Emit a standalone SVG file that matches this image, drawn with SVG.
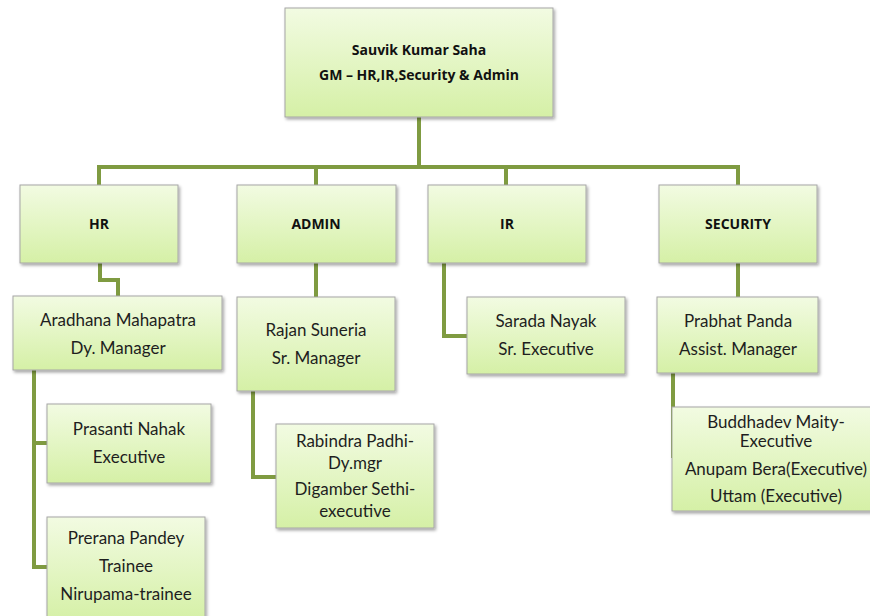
<svg xmlns="http://www.w3.org/2000/svg" width="870" height="616" viewBox="0 0 870 616">
<defs>
<linearGradient id="g" x1="0" y1="0" x2="0" y2="1">
<stop offset="0" stop-color="#f2fbe2"/>
<stop offset="1" stop-color="#d5f0a6"/>
</linearGradient>
<filter id="sh" x="-10%" y="-10%" width="130%" height="130%">
<feDropShadow dx="1.5" dy="2" stdDeviation="1.5" flood-color="#000" flood-opacity="0.35"/>
</filter>
</defs>
<style>
.box{fill:url(#g);stroke:#a6a6a6;stroke-width:1;filter:url(#sh)}
.t{font-family:Lato,"Open Sans","Liberation Sans",sans-serif;font-size:17px;fill:#1e1e1e;text-anchor:middle}
.b{font-family:"Open Sans","Liberation Sans",sans-serif;font-size:14px;font-weight:bold;fill:#111;text-anchor:middle}
.c{fill:none;stroke:#7f9b41;stroke-width:4;stroke-linejoin:miter}
</style>
<rect width="870" height="616" fill="#fff"/>
<g id="connectors">
<path class="c" d="M419 117 V167"/>
<path class="c" d="M99 185 V167 H738 V185"/>
<path class="c" d="M316 167 V185"/>
<path class="c" d="M506 167 V185"/>
<path class="c" d="M100 263 V280 H118 V296"/>
<path class="c" d="M34 370 V567 H47"/>
<path class="c" d="M34 443 H47"/>
<path class="c" d="M316 263 V297"/>
<path class="c" d="M253 391 V477 H276"/>
<path class="c" d="M444 263 V336 H467"/>
<path class="c" d="M738 263 V297"/>
<path class="c" d="M673 373 V458"/>
</g>
<g id="gm">
<rect class="box" x="285" y="8" width="268" height="109"/>
<text class="b" x="419" y="55">Sauvik Kumar Saha</text>
<text class="b" x="419" y="80">GM – HR,IR,Security &amp; Admin</text>
</g>
<g id="hr">
<rect class="box" x="20" y="185" width="158" height="78"/>
<text class="b" x="99" y="229">HR</text>
</g>
<g id="admin">
<rect class="box" x="237" y="185" width="159" height="78"/>
<text class="b" x="316" y="229">ADMIN</text>
</g>
<g id="ir">
<rect class="box" x="428" y="185" width="158" height="78"/>
<text class="b" x="507" y="229">IR</text>
</g>
<g id="security">
<rect class="box" x="659" y="185" width="158" height="78"/>
<text class="b" x="738" y="229">SECURITY</text>
</g>
<g id="aradhana">
<rect class="box" x="13" y="296" width="209" height="74"/>
<text class="t" x="118" y="326">Aradhana Mahapatra</text>
<text class="t" x="118" y="354">Dy. Manager</text>
</g>
<g id="prasanti">
<rect class="box" x="47" y="404" width="164" height="79"/>
<text class="t" x="129" y="435">Prasanti Nahak</text>
<text class="t" x="129" y="463">Executive</text>
</g>
<g id="prerana">
<rect class="box" x="47" y="517" width="158" height="104"/>
<text class="t" x="126" y="544">Prerana Pandey</text>
<text class="t" x="126" y="572">Trainee</text>
<text class="t" x="126" y="600">Nirupama-trainee</text>
</g>
<g id="rajan">
<rect class="box" x="237" y="297" width="158" height="94"/>
<text class="t" x="316" y="336">Rajan Suneria</text>
<text class="t" x="316" y="364">Sr. Manager</text>
</g>
<g id="rabindra">
<rect class="box" x="276" y="424" width="158" height="104"/>
<text class="t" x="355" y="447">Rabindra Padhi-</text>
<text class="t" x="355" y="469">Dy.mgr</text>
<text class="t" x="355" y="495">Digamber Sethi-</text>
<text class="t" x="355" y="517">executive</text>
</g>
<g id="sarada">
<rect class="box" x="467" y="297" width="158" height="77"/>
<text class="t" x="546" y="327">Sarada Nayak</text>
<text class="t" x="546" y="355">Sr. Executive</text>
</g>
<g id="prabhat">
<rect class="box" x="657" y="297" width="161" height="76"/>
<text class="t" x="738" y="327">Prabhat Panda</text>
<text class="t" x="738" y="355">Assist. Manager</text>
</g>
<g id="buddhadev">
<rect class="box" x="672" y="407" width="200" height="104"/>
<text class="t" x="776" y="428">Buddhadev Maity-</text>
<text class="t" x="776" y="447">Executive</text>
<text class="t" x="776" y="475">Anupam Bera(Executive)</text>
<text class="t" x="776" y="502">Uttam (Executive)</text>
</g>
</svg>
